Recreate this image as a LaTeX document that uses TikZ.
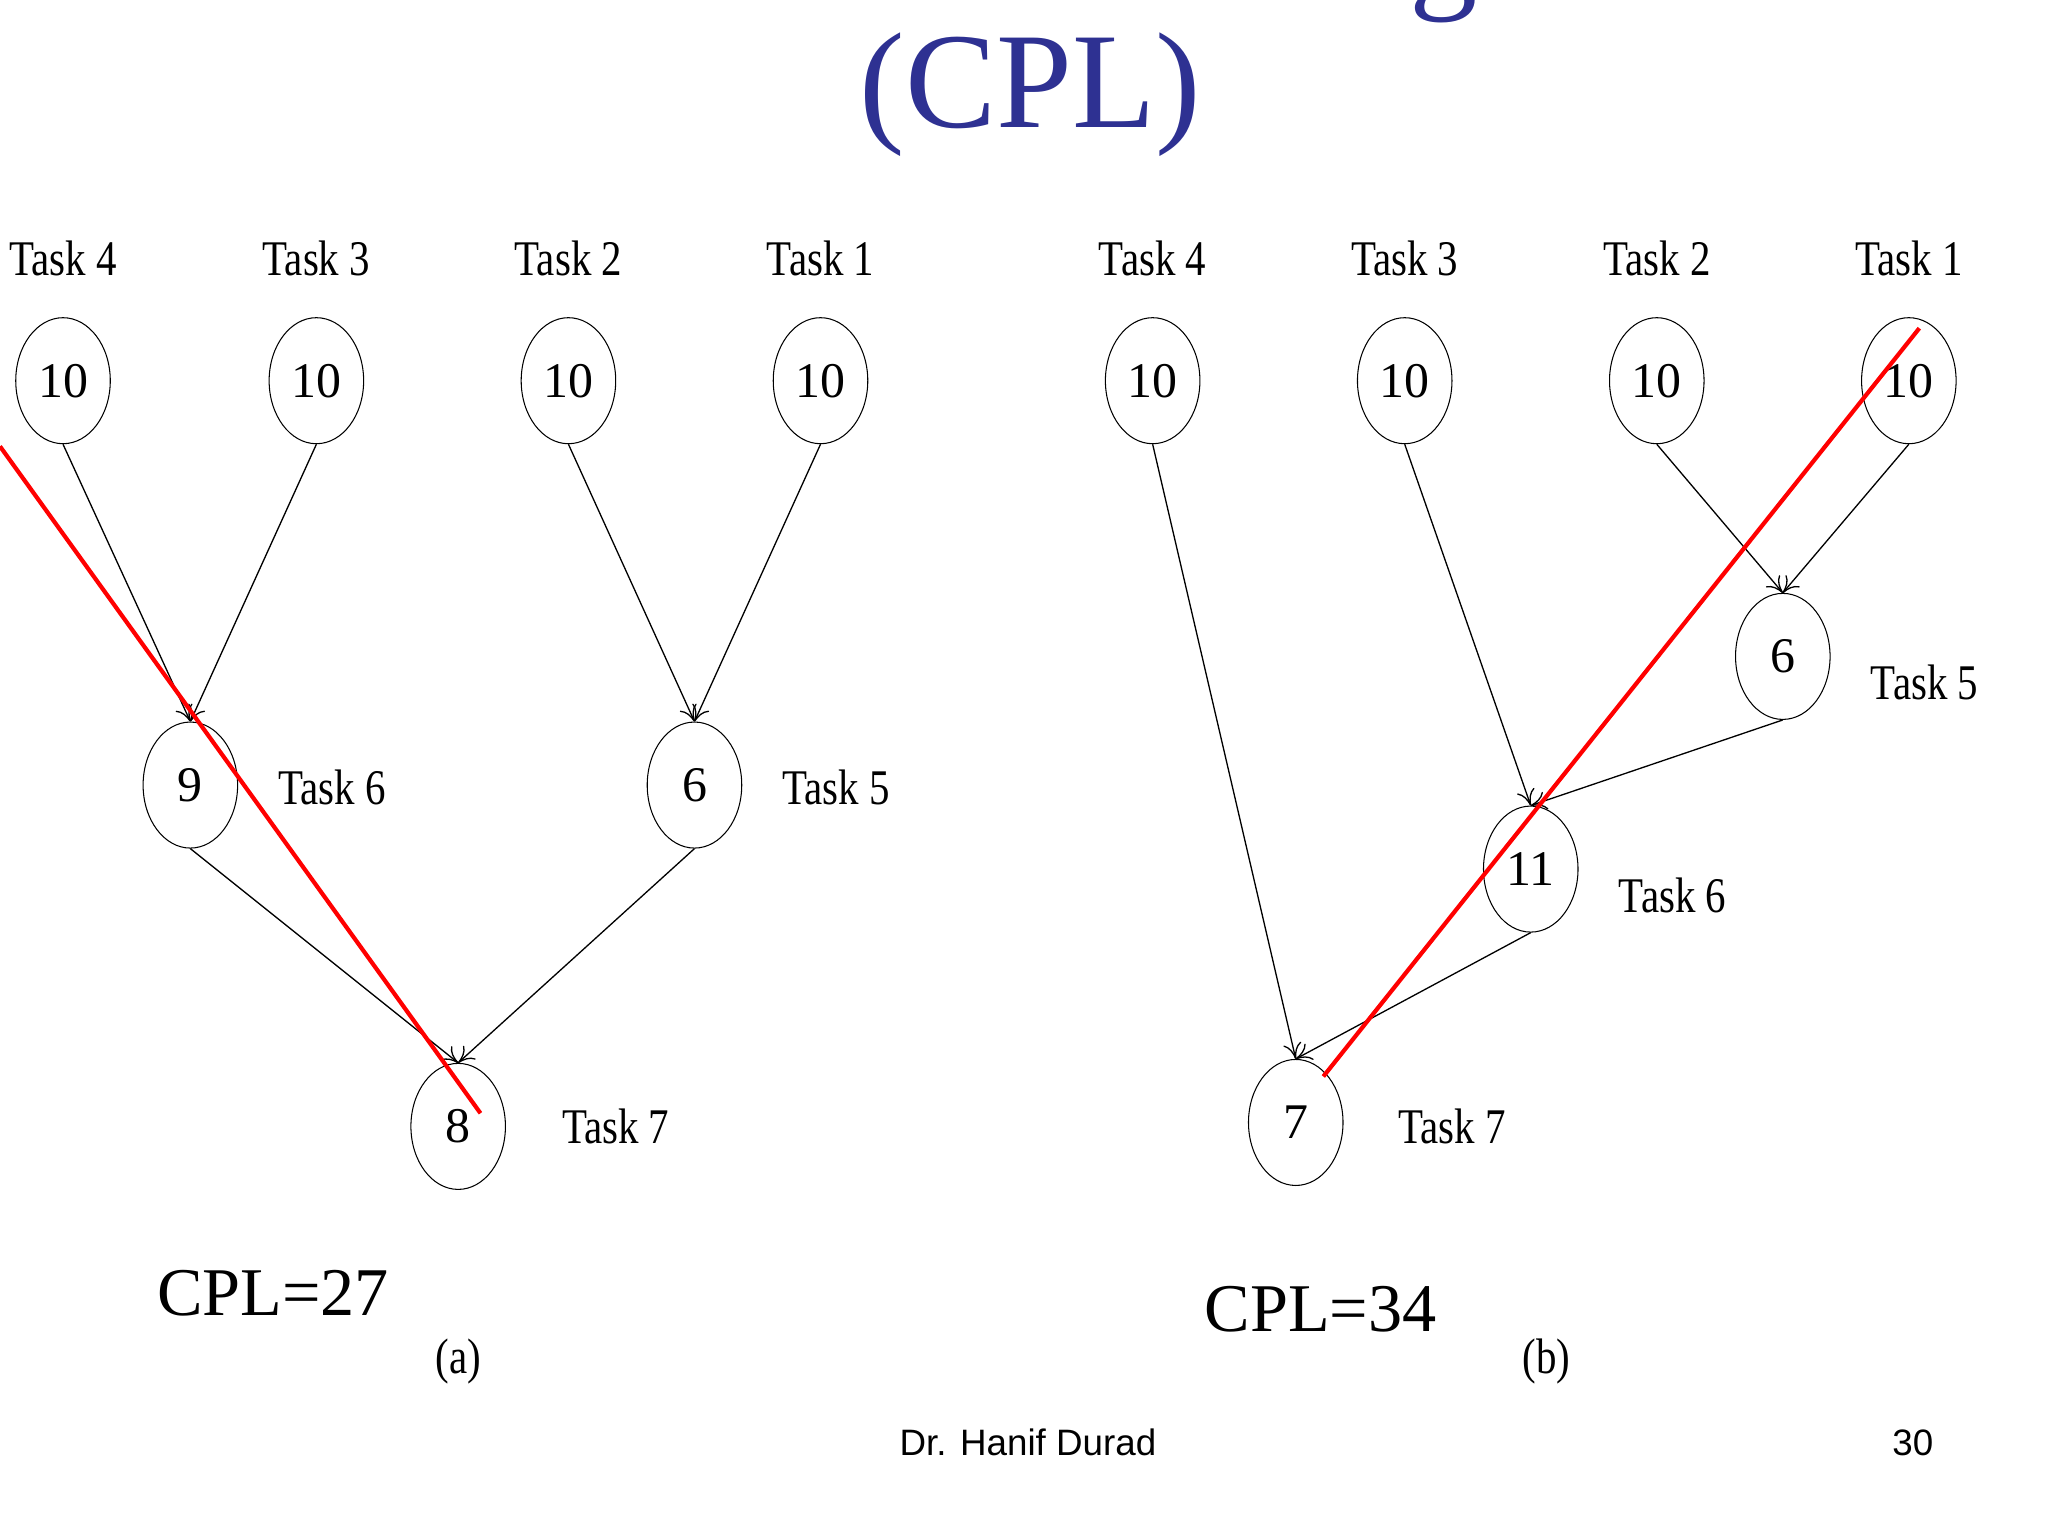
\documentclass[tikz,border=0pt]{standalone}
\usepackage{fontspec}
\setmainfont{Liberation Serif}
\setsansfont{Liberation Sans}
\usetikzlibrary{arrows.meta,shapes.geometric}
\definecolor{ttl}{RGB}{46,49,146}
\begin{document}
\begin{tikzpicture}[x=0.5pt,y=-0.5pt,
  tn/.style={draw,ellipse,minimum width=36pt,minimum height=48pt,inner sep=0pt,font=\fontsize{19}{19}\selectfont},
  lb/.style={font=\fontsize{19}{19}\selectfont\addfontfeatures{FakeStretch=0.82}},
  ed/.style={-{To[length=6pt,width=7pt]},line width=0.5pt},
  rl/.style={red,line width=1.6pt}]
\useasboundingbox (0,0) rectangle (1560,1170);
\begin{scope}
\clip (0,0) rectangle (1560,1170);
\node[ttl,font=\fontsize{52}{52}\selectfont,anchor=base] (t0) at (785,-5) {Critical Path Length};
\end{scope}
\node[ttl,font=\fontsize{52}{52}\selectfont] (t1) at (785,72) {(CPL)};
% (a)
\foreach \n/\x/\l in {a4/48/4,a3/241/3,a2/433/2,a1/625/1}{
  \node[tn] (\n) at (\x,290) {10};
  \node[lb] (\n l) at (\x,197) {Task \l};}
\node[tn] (a6) at (145,598) {9}; \node[lb] (a6l) at (253,600) {Task 6};
\node[tn] (a5) at (529,598) {6}; \node[lb] (a5l) at (637,600) {Task 5};
\node[tn] (a7) at (349,858) {8}; \node[lb] (a7l) at (469,858) {Task 7};
\draw[ed] (a4.south) -- (a6.north);
\draw[ed] (a3.south) -- (a6.north);
\draw[ed] (a2.south) -- (a5.north);
\draw[ed] (a1.south) -- (a5.north);
\draw[ed] (a6.south) -- (a7.north);
\draw[ed] (a5.south) -- (a7.north);
\coordinate (ra1) at (0,340); \coordinate (ra2) at (366,848);
\draw[rl] (ra1) -- (ra2);
\node[font=\fontsize{26}{26}\selectfont] (cpla) at (208,985) {CPL=27};
\node[lb] (capa) at (349,1037) {(a)};
% (b)
\foreach \n/\x/\l in {b4/878/4,b3/1070/3,b2/1262/2,b1/1454/1}{
  \node[tn] (\n) at (\x,290) {10};
  \node[lb] (\n l) at (\x,197) {Task \l};}
\node[tn] (b5) at (1358,500) {6}; \node[lb] (b5l) at (1466,520) {Task 5};
\node[tn] (b6) at (1166,662) {11}; \node[lb] (b6l) at (1274,682) {Task 6};
\node[tn] (b7) at (987,855) {7}; \node[lb] (b7l) at (1106,858) {Task 7};
\draw[ed] (b4.south) -- (b7.north);
\draw[ed] (b3.south) -- (b6.north);
\draw[ed] (b2.south) -- (b5.north);
\draw[ed] (b1.south) -- (b5.north);
\draw[ed] (b5.south) -- (b6.north);
\draw[ed] (b6.south) -- (b7.north);
\coordinate (rb1) at (1462,250); \coordinate (rb2) at (1008,820);
\draw[rl] (rb1) -- (rb2);
\node[font=\fontsize{26}{26}\selectfont] (cplb) at (1006,997) {CPL=34};
\node[lb] (capb) at (1178,1037) {(b)};
\node[font=\sffamily\fontsize{14}{14}\selectfont] (ft) at (783,1099) {Dr. Hanif Durad};
\node[font=\sffamily\fontsize{14}{14}\selectfont] (pg) at (1457,1099) {30};
\end{tikzpicture}
\end{document}
